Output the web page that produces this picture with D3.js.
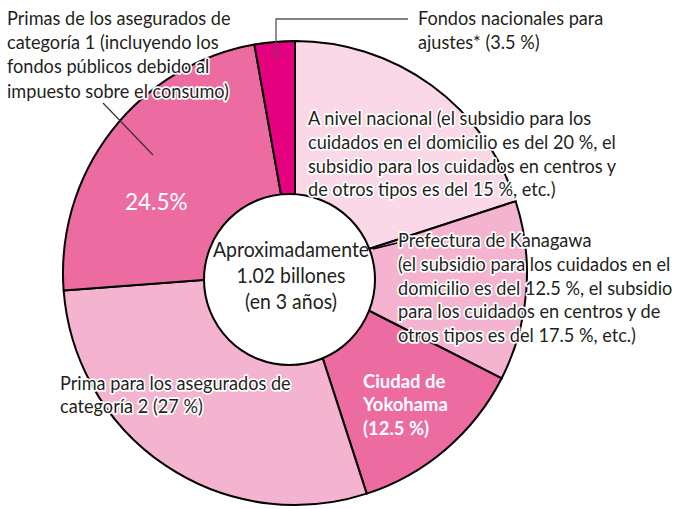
<!DOCTYPE html>
<html>
<head>
<meta charset="utf-8">
<script src="https://cdn.jsdelivr.net/npm/d3@7"></script>
<style>
  html, body { margin: 0; padding: 0; background: #fff; }
  svg text { font-family: Lato, "Open Sans", sans-serif; }
</style>
</head>
<body>
<div id="chart"></div>
<script>
// Donut — financing of long-term care insurance (Yokohama)
const slices = ["nacional", "prefectura", "yokohama", "categoria2", "categoria1", "ajustes"];
// shares as drawn in the picture (clockwise from 12 o'clock)
const shares = [20.0, 12.5, 12.5, 28.8, 23.4, 2.8];
const colors = ["#fbd8e7", "#f4b3cf", "#ec6ca2", "#f4b3cf", "#ec6ca2", "#e4007f"];

const labelNacional = ["A nivel nacional (el subsidio para los", "cuidados en el domicilio es del 20 %, el",
  "subsidio para los cuidados en centros y", "de otros tipos es del 15 %, etc.)"];
const labelPrefectura = ["Prefectura de Kanagawa", "(el subsidio para los cuidados en el",
  "domicilio es del 12.5 %, el subsidio", "para los cuidados en centros y de", "otros tipos es del 17.5 %, etc.)"];
const labelYokohama = ["Ciudad de", "Yokohama", "(12.5 %)"];
const labelCat2 = ["Prima para los asegurados de", "categoría 2 (27 %)"];
const labelCat1 = ["Primas de los asegurados de", "categoría 1 (incluyendo los",
  "fondos públicos debido al", "impuesto sobre el consumo)"];
const labelCat1Pct = "24.5%";
const labelAjustes = ["Fondos nacionales para", "ajustes* (3.5 %)"];
const centerLines = ["Aproximadamente", "1.02 billones", "(en 3 años)"];

(function(){
  const width = 675, height = 509;
  const cx = 295, cy = 273, R = 232;

  const svg = d3.select("#chart").append("svg")
    .attr("width", width)
    .attr("height", height);

  const pie = d3.pie().sort(null).value(d => d);
  const arc = d3.arc().innerRadius(0).outerRadius(R);

  const g = svg.append("g").attr("transform", `translate(${cx},${cy})`);

  g.selectAll("path.slice")
    .data(pie(shares))
    .join("path")
    .attr("class", "slice")
    .attr("d", arc)
    .attr("fill", (d, i) => colors[i])
    .attr("stroke", "#000")
    .attr("stroke-width", 2)
    .attr("stroke-linejoin", "round");

  // white hole (drawn slightly off-centre like the original)
  svg.append("circle")
    .attr("cx", 289.5)
    .attr("cy", 279.5)
    .attr("r", 85.5)
    .attr("fill", "#fff")
    .attr("stroke", "#000")
    .attr("stroke-width", 2);

  // leader lines
  svg.append("path")
    .attr("d", "M276,58 V19 H408")
    .attr("fill", "none")
    .attr("stroke", "#555")
    .attr("stroke-width", 1.3);
  svg.append("line")
    .attr("x1", 103).attr("y1", 103).attr("x2", 153).attr("y2", 155)
    .attr("stroke", "#333").attr("stroke-width", 1.2);
  svg.append("line")
    .attr("x1", 373).attr("y1", 249).attr("x2", 397).attr("y2", 243)
    .attr("stroke", "#000").attr("stroke-width", 1.5);

  // multi-line text, squeezed a bit horizontally to mimic the narrow original face
  function block(lines, x, y, lh, opts) {
    const o = Object.assign({size: 19, fill: "#231f20", halo: true, weight: "normal",
      anchor: "start", sx: 0.955}, opts);
    const t = svg.append("text")
      .attr("transform", `translate(${x},0) scale(${o.sx},1) translate(${-x},0)`)
      .attr("x", x)
      .attr("y", y)
      .attr("text-anchor", o.anchor)
      .attr("font-size", o.size)
      .attr("font-weight", o.weight)
      .attr("fill", o.fill);
    if (o.halo) {
      t.attr("stroke", "#fff")
        .attr("stroke-width", 3.5)
        .attr("stroke-linejoin", "round")
        .attr("paint-order", "stroke");
    }
    lines.forEach((s, i) => {
      t.append("tspan").attr("x", x).attr("y", y + i * lh).text(s);
    });
    return t;
  }

  block(labelCat1, 7, 25, 24.2);
  block(labelAjustes, 418, 25, 24);
  block(labelNacional, 308, 125, 23.8);
  block(labelPrefectura, 398, 247, 23.8);
  block(labelCat2, 60, 390, 23.5);
  block(labelYokohama, 363, 388, 23.5, {fill: "#fff", halo: false, weight: "bold", sx: 0.97});
  block([labelCat1Pct], 125, 210, 0, {fill: "#fff", halo: false, size: 22.5, sx: 1});
  block(centerLines, 291, 257, 26, {anchor: "middle", halo: false, size: 20.5, sx: 0.95});
})();
</script>
</body>
</html>
